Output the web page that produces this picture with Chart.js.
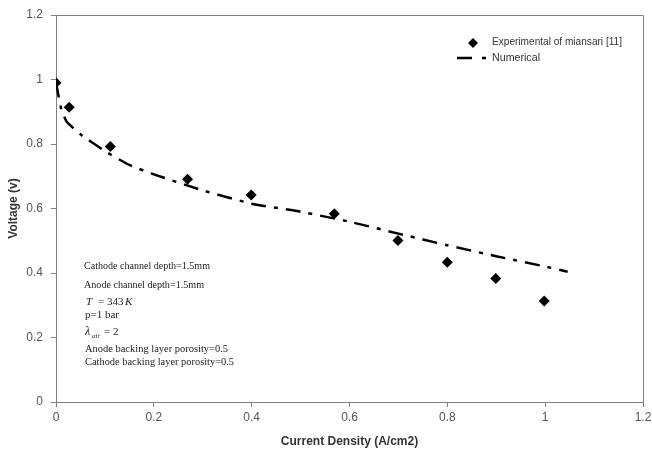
<!DOCTYPE html>
<html lang="en">
<head>
    <meta charset="UTF-8">
    <title>Polarization curve</title>
    <script src="https://cdn.jsdelivr.net/npm/chart.js"></script>
    <style>
        html, body { margin: 0; padding: 0; background: #fff; }
        .chart-box { width: 652px; height: 453px; }
    </style>
</head>
<body>
    <div class="chart-box">
        <canvas id="polChart"></canvas>
    </div>
    <script>
        // experimental points (miansari [11])
        const expX = [0, 0.027, 0.111, 0.269, 0.399, 0.569, 0.699, 0.8, 0.899, 0.998];
        const expY = [0.99, 0.914, 0.792, 0.691, 0.642, 0.584, 0.501, 0.433, 0.383, 0.313];
        // numerical curve
        const numX = [0, 0.011, 0.022, 0.05, 0.1, 0.15, 0.2, 0.3, 0.4, 0.5, 0.6, 0.7, 0.8, 0.9, 1.0, 1.046];
        const numY = [0.99, 0.907, 0.869, 0.83, 0.778, 0.735, 0.706, 0.656, 0.615, 0.59, 0.559, 0.522, 0.486, 0.452, 0.42, 0.404];

        const axisColor = '#808080';
        const tickColor = '#555';

        function toPoints(xs, ys) {
            return xs.map((x, i) => ({ x: x, y: ys[i] }));
        }

        // 1 instead of 1.0, 0 instead of 0.0
        function shortLabel(value) {
            return String(Number(value.toFixed(1)));
        }

        // border box, legend and the parameter notes
        const extras = {
            id: 'extras',
            beforeDraw(chart) {
                const c = chart.ctx;
                c.save();
                c.fillStyle = '#fff';
                c.fillRect(0, 0, chart.width, chart.height);
                c.restore();
            },
            afterDraw(chart) {
                const c = chart.ctx;
                const a = chart.chartArea;
                c.save();
                c.strokeStyle = axisColor;
                c.lineWidth = 1;
                c.beginPath();
                c.moveTo(a.left, a.top + 0.5);
                c.lineTo(a.right + 0.5, a.top + 0.5);
                c.lineTo(a.right + 0.5, a.bottom);
                c.stroke();

                // legend
                c.fillStyle = '#000';
                c.beginPath();
                c.moveTo(473, 38); c.lineTo(478, 43); c.lineTo(473, 48); c.lineTo(468, 43);
                c.closePath();
                c.fill();
                c.strokeStyle = '#000';
                c.lineWidth = 2.5;
                c.beginPath();
                c.moveTo(457, 58); c.lineTo(472, 58);
                c.moveTo(482, 58); c.lineTo(486, 58);
                c.stroke();
                c.fillStyle = '#333';
                c.font = '11px "Liberation Sans", Arial, sans-serif';
                c.textBaseline = 'middle';
                c.textAlign = 'left';
                c.fillText('Experimental of miansari [11]', 492, 42, 130);
                c.fillText('Numerical', 492, 58, 48);

                // notes
                c.fillStyle = '#222';
                c.font = '11px "Liberation Serif", "Times New Roman", serif';
                c.fillText('Cathode channel depth=1.5mm', 84, 266, 126);
                c.fillText('Anode channel depth=1.5mm', 84, 285, 120);
                c.font = 'italic 11px "Liberation Serif", serif';
                c.fillText('T', 86, 302);
                c.font = '11px "Liberation Serif", serif';
                c.fillText('= 343', 98, 302);
                c.font = 'italic 11px "Liberation Serif", serif';
                c.fillText('K', 125, 302);
                c.font = '11px "Liberation Serif", serif';
                c.fillText('p=1 bar', 85, 315, 35);
                c.font = 'italic 12px "Liberation Serif", serif';
                c.fillText('\u03bb', 85, 332);
                c.font = 'italic 7px "Liberation Serif", serif';
                c.fillText('air', 92, 336);
                c.font = '11px "Liberation Serif", serif';
                c.fillText('= 2', 104, 332);
                c.fillText('Anode backing layer porosity=0.5', 85, 349, 143);
                c.fillText('Cathode backing layer porosity=0.5', 85, 362, 149);
                c.restore();
            }
        };

        const ctx = document.getElementById('polChart');
        new Chart(ctx, {
            type: 'scatter',
            data: {
                datasets: [{
                    label: 'Experimental of miansari [11]',
                    data: toPoints(expX, expY),
                    pointStyle: 'rectRot',
                    pointRadius: 5.5,
                    backgroundColor: '#000',
                    borderColor: '#000',
                    borderWidth: 0,
                    showLine: false
                }, {
                    label: 'Numerical',
                    data: toPoints(numX, numY),
                    showLine: true,
                    pointRadius: 0,
                    borderColor: '#000',
                    borderWidth: 2.5,
                    borderDash: [15, 8, 4, 8],
                    tension: 0.15
                }]
            },
            options: {
                responsive: true,
                maintainAspectRatio: false,
                animation: false,
                layout: { padding: { top: 15, right: 9, left: 0, bottom: 0 } },
                plugins: {
                    legend: { display: false },
                    tooltip: { enabled: false }
                },
                scales: {
                    x: {
                        type: 'linear',
                        min: 0,
                        max: 1.2,
                        ticks: {
                            stepSize: 0.2,
                            color: tickColor,
                            padding: 3,
                            callback: shortLabel,
                            font: { family: '"Liberation Sans", Arial, sans-serif', size: 12 }
                        },
                        grid: { drawOnChartArea: false, color: axisColor, tickLength: 5 },
                        border: { color: axisColor },
                        title: {
                            display: true,
                            text: 'Current Density (A/cm2)',
                            color: '#333',
                            padding: { top: 0, bottom: 4 },
                            font: { family: '"Liberation Sans", Arial, sans-serif', size: 12, weight: 'bold' }
                        },
                        afterFit(scale) {
                            scale.height = 51;
                            scale.paddingLeft = 0;
                            scale.paddingRight = 0;
                        }
                    },
                    y: {
                        min: 0,
                        max: 1.2,
                        ticks: {
                            stepSize: 0.2,
                            color: tickColor,
                            padding: 8,
                            callback: shortLabel,
                            font: { family: '"Liberation Sans", Arial, sans-serif', size: 12 }
                        },
                        grid: { drawOnChartArea: false, color: axisColor, tickLength: 5 },
                        border: { color: axisColor },
                        title: {
                            display: true,
                            text: 'Voltage (v)',
                            color: '#333',
                            padding: { top: 6, bottom: 0 },
                            font: { family: '"Liberation Sans", Arial, sans-serif', size: 12, weight: 'bold' }
                        },
                        afterFit(scale) {
                            scale.width = 56;
                            scale.paddingTop = 0;
                            scale.paddingBottom = 0;
                        }
                    }
                }
            },
            plugins: [extras]
        });
    </script>
</body>
</html>
